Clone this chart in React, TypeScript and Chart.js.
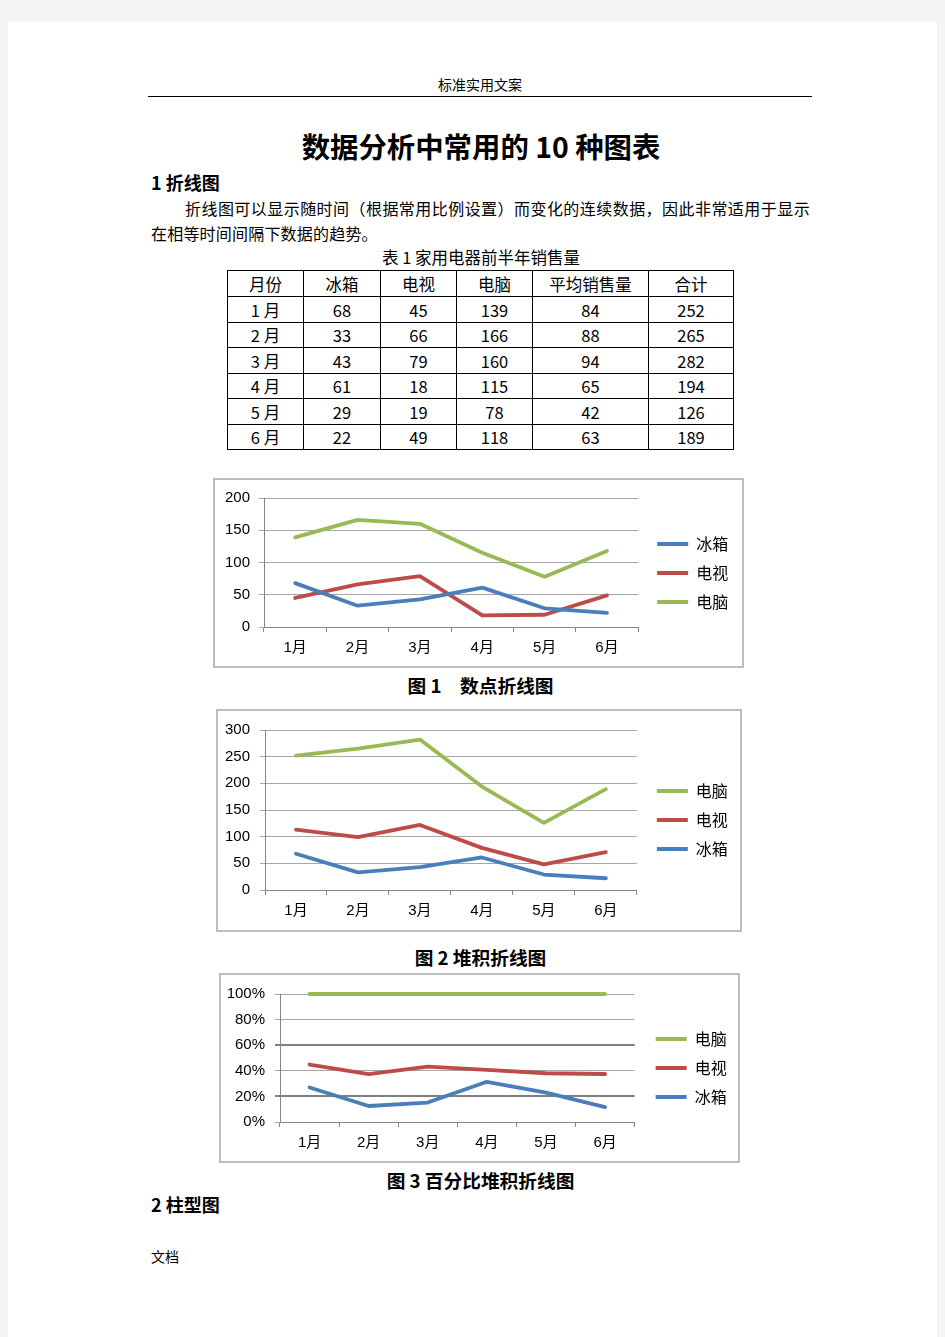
import React, { useEffect, useRef } from "react";
import { Chart, registerables } from "chart.js";

Chart.register(...registerables);

// ---------- data ----------
const months = ["1月", "2月", "3月", "4月", "5月", "6月"];
const tableMonths = ["1 月", "2 月", "3 月", "4 月", "5 月", "6 月"];
const tableHeader = ["月份", "冰箱", "电视", "电脑", "平均销售量", "合计"];
const fridge = [68, 33, 43, 61, 29, 22];
const tv = [45, 66, 79, 18, 19, 49];
const pc = [139, 166, 160, 115, 78, 118];
const avgSales = [84, 88, 94, 65, 42, 63];
const totals = [252, 265, 282, 194, 126, 189];
// percentage shares
const fridgePct = [27.0, 12.5, 15.2, 31.4, 23.0, 11.6];
const tvPct = [17.9, 24.9, 28.0, 9.3, 15.1, 25.9];
const pcPct = [55.1, 62.6, 56.8, 59.3, 61.9, 62.5];

const BLUE = "#4a7ebb";
const RED = "#be4b48";
const GREEN = "#98b954";
const GRID = "#a6a6a6";
const AXIS = "#868686";

const PAGE_FONT = '"Noto Sans CJK SC", "Liberation Sans", sans-serif';
const CHART_FONT = '"Liberation Sans", "Noto Sans CJK SC", sans-serif';

type Series = { label: string; data: number[]; color: string };
type LineSpec = {
  left: number; top: number; width: number; height: number;
  padTop: number; padBottom: number; padRight: number; titleH: number;
  yWidth: number; xHeight: number; gap: number;
  yMax: number; yStep: number; yLabelPad: number; xLabelPad: number;
  percent?: boolean; stacked?: boolean; reverse?: boolean;
  darkGrid?: number[];
  series: Series[];
};

function LineChart({ spec }: { spec: LineSpec }) {
  const ref = useRef<HTMLCanvasElement>(null);
  useEffect(() => {
    const dark = spec.darkGrid || [];
    const chart = new Chart(ref.current as HTMLCanvasElement, {
      type: "line",
      data: {
        labels: months,
        datasets: spec.series.map((s) => ({
          label: s.label,
          data: s.data,
          borderColor: s.color,
          backgroundColor: s.color,
          borderWidth: 3.8,
          pointRadius: 0,
          pointHoverRadius: 0,
          tension: 0,
          fill: false,
          clip: false,
          borderCapStyle: "round",
          borderJoinStyle: "round",
        })),
      },
      options: {
        animation: false,
        responsive: false,
        devicePixelRatio: 1,
        layout: { padding: { top: spec.padTop, bottom: spec.padBottom, left: 0, right: spec.padRight } },
        plugins: {
          title: {
            display: true,
            text: " ",
            font: { size: 1, lineHeight: 1 },
            padding: { top: 0, bottom: spec.titleH - 1 },
          },
          legend: {
            position: "right",
            reverse: !!spec.reverse,
            labels: {
              usePointStyle: true,
              pointStyle: "line",
              pointStyleWidth: 31,
              padding: 13,
              color: "#000",
              font: { size: 16, family: PAGE_FONT },
            },
          },
          tooltip: { enabled: false },
        },
        scales: {
          x: {
            type: "category",
            offset: true,
            grid: { display: true, drawOnChartArea: false, offset: true, tickLength: 5, color: AXIS },
            border: { color: AXIS, width: 1 },
            ticks: { padding: spec.xLabelPad, color: "#000", font: { size: 15, family: CHART_FONT }, maxRotation: 0, autoSkip: false },
            afterFit: (s: any) => { s.height = spec.xHeight; },
          },
          y: {
            type: "linear",
            min: 0,
            max: spec.yMax,
            stacked: !!spec.stacked,
            ticks: {
              stepSize: spec.yStep,
              padding: spec.yLabelPad,
              color: "#000",
              font: { size: 15, family: CHART_FONT },
              callback: (v: any) => (spec.percent ? v + "%" : String(v)),
            },
            grid: {
              tickLength: 5,
              color: (c: any) => (c.tick && dark.includes(c.tick.value) ? "#7f7f7f" : GRID),
              lineWidth: (c: any) => (c.tick && dark.includes(c.tick.value) ? 2 : 1),
            },
            border: { color: AXIS, width: 1 },
            afterFit: (s: any) => { s.width = spec.yWidth; },
          },
          gap: {
            type: "linear",
            position: "right",
            display: true,
            grid: { display: false, drawTicks: false },
            border: { display: false },
            ticks: { display: false },
            afterFit: (s: any) => { s.width = spec.gap; },
          },
        },
      } as any,
    });
    return () => chart.destroy();
  }, []);
  return (
    <canvas
      ref={ref}
      width={spec.width}
      height={spec.height}
      style={{ position: "absolute", left: spec.left, top: spec.top, width: spec.width, height: spec.height }}
    />
  );
}

function Txt(props: { x: number; y: number; w?: number; size: number; bold?: boolean; align?: any; ls?: number; children: any }) {
  const lh = Math.round(props.size * 1.4);
  return (
    <div
      style={{
        position: "absolute",
        left: props.x,
        top: props.y - lh / 2 - props.size * 0.06,
        width: props.w,
        height: lh,
        lineHeight: lh + "px",
        fontSize: props.size,
        fontWeight: props.bold ? 700 : 400,
        textAlign: props.align || "left",
        letterSpacing: props.ls || 0,
        whiteSpace: "nowrap",
        fontFamily: PAGE_FONT,
        color: "#000",
      }}
    >
      {props.children}
    </div>
  );
}

function Box({ l, t, r, b }: { l: number; t: number; r: number; b: number }) {
  return (
    <div style={{ position: "absolute", left: l, top: t, width: r - l, height: b - t, boxSizing: "border-box", border: "2px solid #bdbdbd" }} />
  );
}

const colEdges = [227, 303, 380, 456, 532, 648, 733];
const rowEdges = [270, 296, 322, 347, 373, 398, 424, 449];

function DataTable() {
  const rows: string[][] = [tableHeader];
  for (let i = 0; i < 6; i++) {
    rows.push([tableMonths[i], String(fridge[i]), String(tv[i]), String(pc[i]), String(avgSales[i]), String(totals[i])]);
  }
  const els: any[] = [];
  colEdges.forEach((x, i) => els.push(
    <div key={"v" + i} style={{ position: "absolute", left: x, top: rowEdges[0], width: 1, height: rowEdges[7] - rowEdges[0] + 1, background: "#000" }} />
  ));
  rowEdges.forEach((y, i) => els.push(
    <div key={"h" + i} style={{ position: "absolute", left: colEdges[0], top: y, width: colEdges[6] - colEdges[0] + 1, height: 1, background: "#000" }} />
  ));
  rows.forEach((row, ri) => row.forEach((cell, ci) => {
    const x0 = colEdges[ci], x1 = colEdges[ci + 1];
    const y0 = rowEdges[ri], y1 = rowEdges[ri + 1];
    els.push(
      <div key={"c" + ri + "_" + ci} style={{ position: "absolute", left: x0 + 1, top: y0 + 1, width: x1 - x0 - 1, height: y1 - y0 - 1, display: "flex", alignItems: "center", justifyContent: "center", fontSize: 16.5, fontFamily: PAGE_FONT, color: "#000", whiteSpace: "nowrap" }}>
        {cell}
      </div>
    );
  }));
  return <>{els}</>;
}

const chart1: LineSpec = {
  left: 215, top: 480, width: 540, height: 186,
  padTop: 4, padBottom: 4, padRight: 25, titleH: 12,
  yWidth: 49, xHeight: 35, gap: 6,
  yMax: 200, yStep: 50, yLabelPad: 9, xLabelPad: 7,
  series: [
    { label: "冰箱", data: fridge, color: BLUE },
    { label: "电视", data: tv, color: RED },
    { label: "电脑", data: pc, color: GREEN },
  ],
};

const chart2: LineSpec = {
  left: 218, top: 711, width: 540, height: 219,
  padTop: 4, padBottom: 5, padRight: 29, titleH: 13,
  yWidth: 47, xHeight: 35, gap: 7,
  yMax: 300, yStep: 50, yLabelPad: 10, xLabelPad: 7,
  stacked: true, reverse: true,
  series: [
    { label: "冰箱", data: fridge, color: BLUE },
    { label: "电视", data: tv, color: RED },
    { label: "电脑", data: pc, color: GREEN },
  ],
};

const chart3: LineSpec = {
  left: 221, top: 975, width: 540, height: 186,
  padTop: 4, padBottom: 4, padRight: 34, titleH: 13,
  yWidth: 59, xHeight: 35, gap: 8,
  yMax: 100, yStep: 20, yLabelPad: 10, xLabelPad: 7,
  percent: true, stacked: true, reverse: true,
  darkGrid: [20, 60],
  series: [
    { label: "冰箱", data: fridgePct, color: BLUE },
    { label: "电视", data: tvPct, color: RED },
    { label: "电脑", data: pcPct, color: GREEN },
  ],
};

export default function App() {
  useEffect(() => {
    document.body.style.margin = "0";
    document.documentElement.style.overflow = "hidden";
  }, []);
  return (
    <div style={{ position: "absolute", left: 0, top: 0, width: 945, height: 1337, background: "#f4f4f4", overflow: "hidden" }}>
      <div style={{ position: "absolute", left: 8, top: 22, width: 929, height: 1315, background: "#fff" }} />
      <Txt x={148} y={85} w={664} size={14} align="center">标准实用文案</Txt>
      <div style={{ position: "absolute", left: 148, top: 96, width: 664, height: 1, background: "#000" }} />
      <Txt x={148} y={148} w={666} size={28.4} bold align="center">数据分析中常用的 10 种图表</Txt>
      <Txt x={151} y={184} size={18} bold>1 折线图</Txt>
      <Txt x={185} y={209} size={16} ls={0.45}>折线图可以显示随时间（根据常用比例设置）而变化的连续数据，因此非常适用于显示</Txt>
      <Txt x={151} y={234} size={16} ls={0.2}>在相等时间间隔下数据的趋势。</Txt>
      <Txt x={148} y={258} w={666} size={16.5} align="center">表 1 家用电器前半年销售量</Txt>
      <DataTable />

      <Box l={213} t={478} r={744} b={668} />
      <LineChart spec={chart1} />
      <Txt x={148} y={686} w={665} size={18.7} bold align="center">图 1{"\u3000"}数点折线图</Txt>

      <Box l={216} t={709} r={742} b={932} />
      <LineChart spec={chart2} />
      <Txt x={148} y={958} w={665} size={18.7} bold align="center">图 2 堆积折线图</Txt>

      <Box l={219} t={973} r={740} b={1163} />
      <LineChart spec={chart3} />
      <Txt x={148} y={1181} w={665} size={18.7} bold align="center">图 3 百分比堆积折线图</Txt>

      <Txt x={151} y={1206} size={18} bold>2 柱型图</Txt>
      <Txt x={151} y={1257} size={14}>文档</Txt>
    </div>
  );
}
